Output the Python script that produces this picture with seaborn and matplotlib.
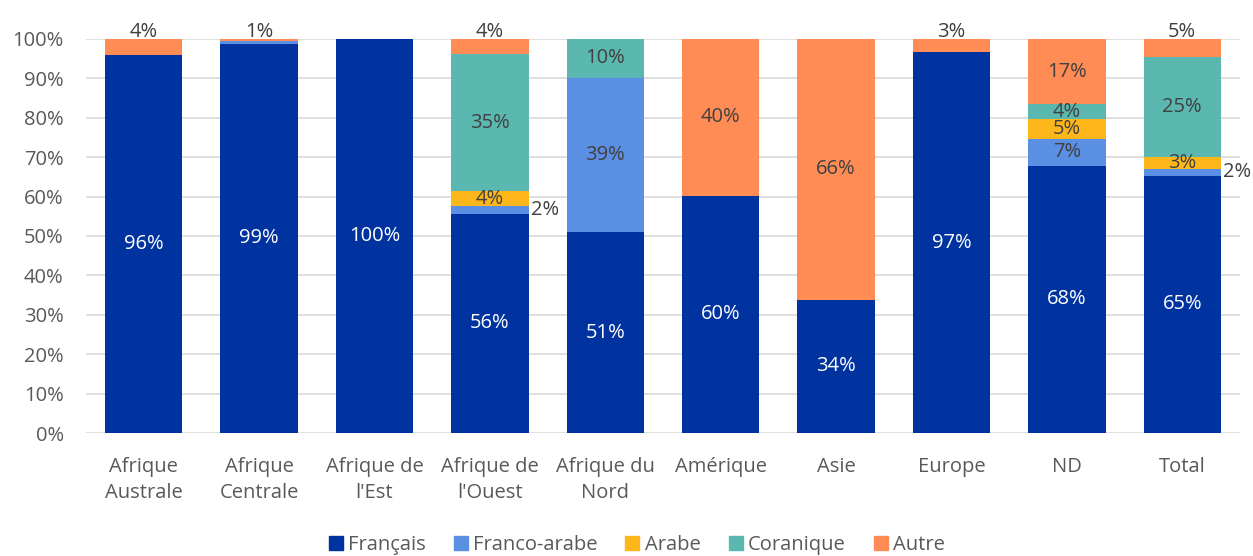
import numpy as np
import pandas as pd
import matplotlib
matplotlib.use("Agg")
import matplotlib.pyplot as plt
from matplotlib.lines import Line2D
import seaborn as sns

sns.set_theme(style="white")
plt.rcParams["font.family"] = ["Open Sans", "DejaVu Sans"]

# ── Data (shares in %) ────────────────────────────────────────────────────────
regions = ["Afrique\nAustrale", "Afrique\nCentrale", "Afrique de\nl'Est",
           "Afrique de\nl'Ouest", "Afrique du\nNord", "Amérique", "Asie",
           "Europe", "ND", "Total"]
francais     = [95.9, 98.8, 100.0, 55.6, 51.0, 60.2, 33.8, 96.6, 67.8, 65.3]
franco_arabe = [0.0,   0.6,   0.0,  1.9, 39.1,  0.0,  0.0,  0.0,  6.9,  1.7]
arabe        = [0.0,   0.0,   0.0,  4.0,  0.0,  0.0,  0.0,  0.0,  5.0,  3.1]
coranique    = [0.0,   0.0,   0.0, 34.6,  9.9,  0.0,  0.0,  0.0,  3.7, 25.2]
autre        = [4.1,   0.6,   0.0,  3.9,  0.0, 39.8, 66.2,  3.4, 16.6,  4.7]

series = ["Français", "Franco-arabe", "Arabe", "Coranique", "Autre"]
colors = ["#0033A0", "#5B8FE3", "#FDB71A", "#5BB8B0", "#FF8C55"]

df = pd.DataFrame({"Région": regions, "Français": francais,
                   "Franco-arabe": franco_arabe, "Arabe": arabe,
                   "Coranique": coranique, "Autre": autre})
cum = df[series].cumsum(axis=1) / 100.0
bottoms = cum.shift(1, axis=1).fillna(0.0)

# ── Plot ──────────────────────────────────────────────────────────────────────
fig = plt.figure(figsize=(12.53, 5.56), dpi=100)
ax = fig.add_axes([0.0686, 0.2212, 0.921, 0.7087])

bar_w = 0.67
fs = 14.5
# stack by drawing cumulative totals, top layer first
for s, c in reversed(list(zip(series, colors))):
    sns.barplot(x=df["Région"], y=cum[s], color=c, saturation=1,
                width=bar_w, ax=ax, zorder=2, linewidth=0, edgecolor="none")

# data labels
for i in range(len(regions)):
    for j, s in enumerate(series):
        v = df.loc[i, s]
        if v <= 0 or (v < 1 and s != "Autre"):
            continue
        txt = f"{v:.0f}%"
        col = "white" if s == "Français" else "#404040"
        mid = bottoms.loc[i, s] + v / 200.0
        if s == "Autre" and v < 6:
            ax.text(i, 1.005, txt, ha="center", va="baseline", fontsize=fs,
                    color=col, clip_on=False)
        elif s == "Franco-arabe" and v < 3:
            ax.text(i + bar_w / 2 + 0.02, mid, txt, ha="left", va="center",
                    fontsize=fs, color=col, clip_on=False)
        else:
            ax.text(i, mid, txt, ha="center", va="center", fontsize=fs,
                    color=col)

ax.set_ylim(0, 1)
ax.set_xlim(-0.5, len(regions) - 0.5)
ax.set_yticks(np.arange(0, 1.01, 0.1))
ax.set_yticklabels([f"{t}%" for t in range(0, 101, 10)])
ax.yaxis.grid(True, color="#d9d9d9", linewidth=1.2, zorder=0)
ax.set_axisbelow(True)
for sp in ax.spines.values():
    sp.set_visible(False)
ax.set_xlabel("")
ax.set_ylabel("")
ax.tick_params(axis="y", length=0, labelsize=fs, labelcolor="#595959", pad=16)
ax.tick_params(axis="x", length=0, labelsize=fs, labelcolor="#595959", pad=17)
for lab in ax.get_xticklabels():
    lab.set_linespacing(1.45)

handles = [Line2D([0], [0], marker="s", linestyle="", markersize=10,
                  markerfacecolor=c, markeredgecolor=c) for c in colors]
fig.legend(handles, series, loc="center", bbox_to_anchor=(0.508, 0.02),
           ncol=5, frameon=False, fontsize=fs, handlelength=0.7,
           handletextpad=0.25, columnspacing=1.4, labelcolor="#595959")

plt.savefig("out.png", dpi=100)
